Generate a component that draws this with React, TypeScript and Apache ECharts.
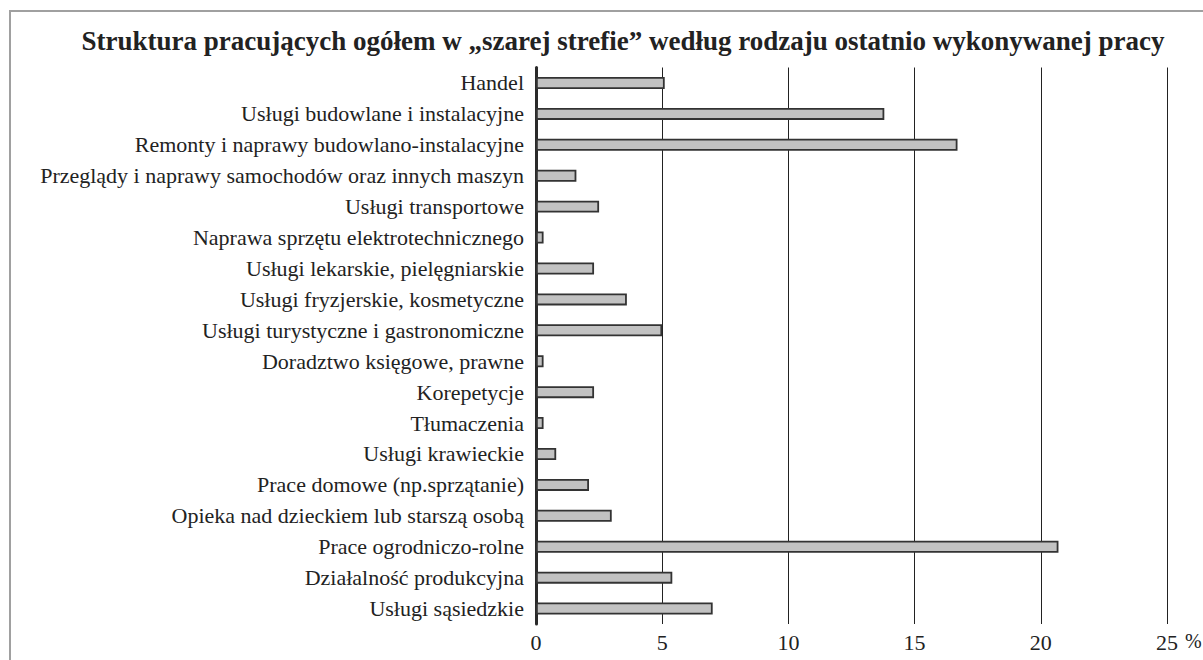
import React, { useEffect, useRef } from "react";
import * as echarts from "echarts";

const categories = [
  "Handel",
  "Usługi budowlane i instalacyjne",
  "Remonty i naprawy budowlano-instalacyjne",
  "Przeglądy i naprawy samochodów oraz innych maszyn",
  "Usługi transportowe",
  "Naprawa sprzętu elektrotechnicznego",
  "Usługi lekarskie, pielęgniarskie",
  "Usługi fryzjerskie, kosmetyczne",
  "Usługi turystyczne i gastronomiczne",
  "Doradztwo księgowe, prawne",
  "Korepetycje",
  "Tłumaczenia",
  "Usługi krawieckie",
  "Prace domowe (np.sprzątanie)",
  "Opieka nad dzieckiem lub starszą osobą",
  "Prace ogrodniczo-rolne",
  "Działalność produkcyjna",
  "Usługi sąsiedzkie",
];

const values = [5.1, 13.8, 16.7, 1.6, 2.5, 0.3, 2.3, 3.6, 5.0, 0.3, 2.3, 0.3, 0.8, 2.1, 3.0, 20.7, 5.4, 7.0];

const titleText = "Struktura pracujących ogółem w „szarej strefie” według rodzaju ostatnio wykonywanej pracy";
const unitLabel = "%";

const FONT = "'Liberation Serif', 'Times New Roman', serif";

export default function App() {
  const ref = useRef<HTMLDivElement>(null);
  useEffect(() => {
    if (!ref.current) return;
    const chart = echarts.init(ref.current, undefined, { renderer: "svg" });
    chart.setOption({
      animation: false,
      backgroundColor: "#ffffff",
      title: {
        text: titleText,
        left: 618,
        textAlign: "center",
        top: 22,
        textStyle: { fontFamily: FONT, fontWeight: "bold", fontSize: 27, color: "#222" },
      },
      graphic: [
        {
          type: "rect",
          shape: { x: 10, y: 11, width: 1210, height: 680 },
          style: { fill: "none", stroke: "#a0a0a0", lineWidth: 2 },
          silent: true,
        },
        {
          type: "text",
          x: 1185,
          y: 641,
          style: {
            text: unitLabel,
            fontFamily: FONT,
            fontSize: 20,
            fill: "#222",
            verticalAlign: "middle",
            align: "left",
          },
        },
      ],
      grid: { left: 536, right: 36, top: 67.5, bottom: 36, containLabel: false },
      xAxis: {
        type: "value",
        min: 0,
        max: 25,
        interval: 5,
        axisLine: { show: false },
        axisTick: { show: false },
        splitLine: { show: true, lineStyle: { color: "#222", width: 1 } },
        axisLabel: { fontFamily: FONT, fontSize: 22, color: "#222", margin: 7 },
      },
      yAxis: {
        type: "category",
        data: categories,
        inverse: true,
        axisLine: { show: true, lineStyle: { color: "#2a2a2a", width: 3 } },
        axisTick: { show: false },
        axisLabel: { fontFamily: FONT, fontSize: 22, color: "#222", margin: 12 },
      },
      series: [
        {
          type: "bar",
          data: values,
          barWidth: 12,
          itemStyle: { color: "#c2c2c2", borderColor: "#333", borderWidth: 1.8 },
        },
      ],
    });
    return () => chart.dispose();
  }, []);
  return <div ref={ref} style={{ position: "fixed", left: 0, top: 0, width: 1203, height: 660 }} />;
}
